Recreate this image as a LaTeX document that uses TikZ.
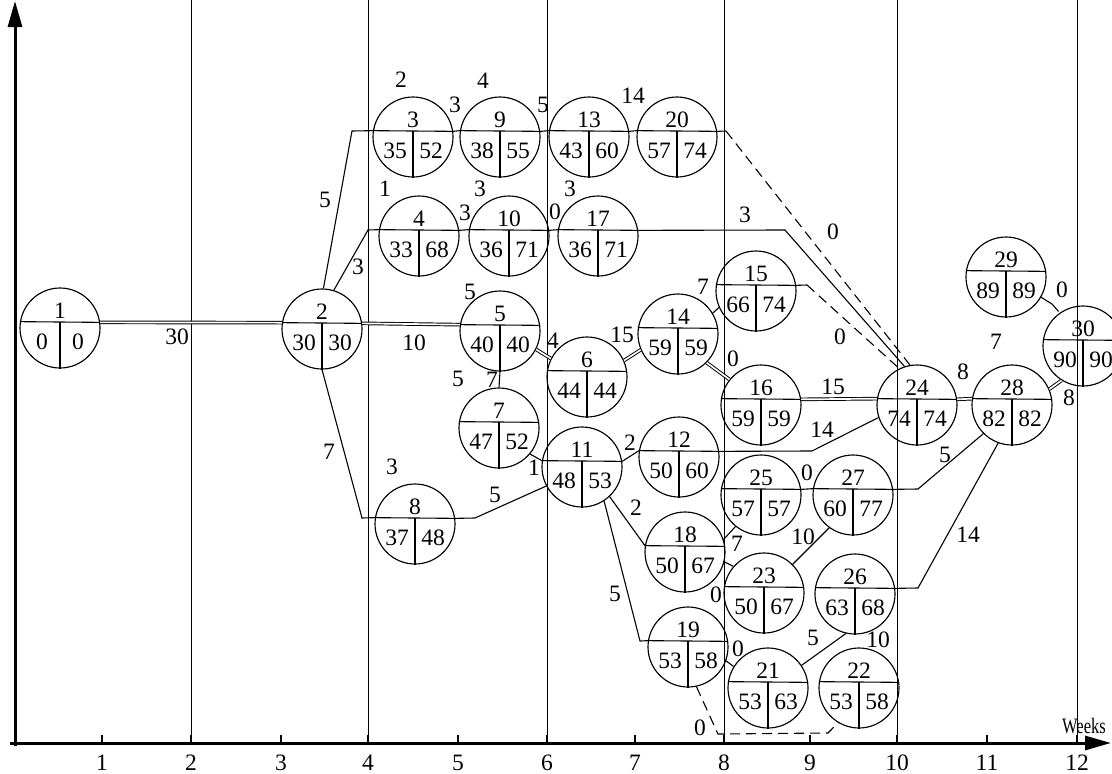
\documentclass[tikz,border=0pt]{standalone}
\usepackage{fontspec}
\setmainfont{Liberation Serif}
\usetikzlibrary{arrows.meta,calc}
\tikzset{
  ev/.style={circle, draw, line width=1.15pt, minimum size=80pt, inner sep=0pt},
  num/.style={font=\fontsize{23.5}{23.5}\selectfont, inner sep=0pt},
  lab/.style={font=\fontsize{23.5}{23.5}\selectfont, inner sep=0pt},
  cn/.style={line width=1.1pt},
  crit/.style={double, double distance=1.7pt, line width=0.95pt},
  dsh/.style={line width=1.1pt, dash pattern=on 10pt off 6pt},
  gridl/.style={line width=0.9pt},
  axisl/.style={line width=3pt, -{Triangle[length=26pt,width=14pt]}},
  tick/.style={line width=2.2pt},
}
\newcommand\evt[6]{%
  \node[ev] (#1) at (#2,#3) {};
  \draw[cn] (#1.171.4) -- (#1.8.6);
  \draw[cn] ([yshift=6pt]#1.center) -- (#1.south);
  \node[num] (#1t) at ([yshift=17pt]#1.center) {#4};
  \node[num] (#1l) at ([shift={(-18pt,-13.5pt)}]#1.center) {#5};
  \node[num] (#1r) at ([shift={(18pt,-13.5pt)}]#1.center) {#6};
}
\begin{document}
\begin{tikzpicture}[x=1pt,y=-1pt]
\useasboundingbox (0,0) rectangle (1112,774);
\clip (0,0) rectangle (1112,774);
% grid
\foreach \gx in {191,368,547,724,897,1077} \draw[gridl] (\gx,0) -- (\gx,743);
% axes
\coordinate (xe) at (1111,743);
\coordinate (ye) at (15,1);
\draw[axisl] (10,743) -- (xe);
\draw[axisl] (15,746) -- (ye);
\foreach \tx/\tl in {102/1,191/2,281/3,368/4,458/5,547/6,635/7,724/8,810/9,897/10,987/11,1077/12}{
  \draw[tick] (\tx,743) -- (\tx,735);
  \node[lab] (tk\tl) at (\tx,763) {\tl};
}
\node[font=\fontsize{22}{22}\selectfont, inner sep=0pt] (weeks) at (1084,726) {\scalebox{0.75}[1]{Weeks}};
% events
\evt{n1}{60}{328}{1}{0}{0}
\evt{n2}{322}{329}{2}{30}{30}
\evt{n3}{413}{137}{3}{35}{52}
\evt{n9}{500}{137}{9}{38}{55}
\evt{n13}{589}{137}{13}{43}{60}
\evt{n20}{677}{137}{20}{57}{74}
\evt{n4}{419}{236}{4}{33}{68}
\evt{n10}{509}{236}{10}{36}{71}
\evt{n17}{598}{236}{17}{36}{71}
\evt{n5}{500}{331}{5}{40}{40}
\evt{n6}{587}{377}{6}{44}{44}
\evt{n14}{678}{334}{14}{59}{59}
\evt{n15}{756}{291}{15}{66}{74}
\evt{n16}{761}{405}{16}{59}{59}
\evt{n24}{917}{405}{24}{74}{74}
\evt{n28}{1012}{405}{28}{82}{82}
\evt{n29}{1006}{277}{29}{89}{89}
\evt{n30}{1083}{346}{30}{90}{90}
\evt{n7}{499}{428}{7}{47}{52}
\evt{n11}{582}{467}{11}{48}{53}
\evt{n12}{679}{457}{12}{50}{60}
\evt{n8}{415}{524}{8}{37}{48}
\evt{n25}{761}{495}{25}{57}{57}
\evt{n27}{853}{495}{27}{60}{77}
\evt{n18}{685}{552}{18}{50}{67}
\evt{n23}{764}{593}{23}{50}{67}
\evt{n26}{855}{594}{26}{63}{68}
\evt{n19}{688}{647}{19}{53}{58}
\evt{n21}{768}{688}{21}{53}{63}
\evt{n22}{859}{688}{22}{53}{58}
% bend points
\coordinate (b1) at (352,131);
\coordinate (b2) at (726,131);
\coordinate (b3) at (368,230);
\coordinate (b4) at (785,230);
\coordinate (b5) at (807,285);
\coordinate (b6) at (812,451);
\coordinate (b7) at (362,518);
\coordinate (b8) at (475,518);
\coordinate (b9) at (640,641);
\coordinate (b10) at (918,489);
\coordinate (b11) at (918,588);
\coordinate (b12) at (718,734);
\coordinate (b13) at (828,733);
\coordinate (g29) at (1052,304);
% connectors
\draw[crit] (n1.8.6) -- (n2.171.4);
\draw[crit] (n2.8.6) -- (n5.171.4);
\draw[cn] (n2.88) -- (b1) -- (n3.171.4);
\draw[cn] (n3.8.6) -- (n9.171.4);
\draw[cn] (n9.8.6) -- (n13.171.4);
\draw[cn] (n13.8.6) -- (n20.171.4);
\draw[cn] (n20.8.6) -- (b2);
\draw[dsh] (b2) -- (n24.100);
\draw[cn] (n2.73) -- (b3) -- (n4.171.4);
\draw[cn] (n4.8.6) -- (n10.171.4);
\draw[cn] (n10.8.6) -- (n17.171.4);
\draw[cn] (n17.8.6) -- (b4) -- (n24.108);
\draw[crit] (n5.-27) -- (n6.153);
\draw[crit] (n6.24) -- (n14.-157);
\draw[crit] (n14.-45) -- (n16.141);
\draw[cn] (n14.31) -- (n15.-156);
\draw[cn] (n15.8.6) -- (b5);
\draw[dsh] (b5) -- (n24.116);
\draw[crit] (n16.8.6) -- (n24.171.4);
\draw[cn] (n12.8.6) -- (b6) -- (n24.198);
\draw[cn] (n5.south) -- (n7.north);
\draw[cn] (n7.-40) -- (n11.171.4);
\draw[cn] (n11.8.6) -- (n12.171.4);
\draw[cn] (n2.south) -- (b7) -- (n8.171.4);
\draw[cn] (n8.8.6) -- (b8) -- (n11.208);
\draw[cn] (n11.-47) -- (n18.171.4);
\draw[cn] (n11.-57) -- (b9) -- (n19.171.4);
\draw[cn] (n18.18) -- (n25.231);
\draw[cn] (n18.-14) -- (n23.139);
\draw[cn] (n25.8.6) -- (n27.171.4);
\draw[cn] (n23.45) -- (n27.234);
\draw[cn] (n27.8.6) -- (b10) -- (n28.225);
\draw[cn] (n26.8.6) -- (b11) -- (n28.250);
\draw[crit] (n24.8.6) -- (n28.171.4);
\draw[crit] (n28.23) -- (n30.238);
\draw[cn] (n29.-30) -- (g29);
\draw[cn, dash pattern=on 10pt off 6pt] (g29) -- (n30.125);
\draw[cn] (n19.-20) -- (n21.148);
\draw[cn] (n21.34) -- (n26.257);
\draw[dsh] (n19.-78) -- (b12) -- (b13) -- (n22.-121);
% labels
\foreach \lx/\ly/\lt [count=\li] in {
 177/337/30, 414/343/10, 325/200/5, 358/267/3, 329/452/7, 392/467/3, 495/495/5,
 401/80/2, 483/81/4, 455/105/3, 543/105/5, 633/96/14,
 385/189/1, 480/189/3, 465/213/3, 555/212/0, 570/189/3,
 745/215/3, 833/232/0, 470/292/5, 553/341/4, 622/335/15, 458/379/5, 492/380/7,
 703/287/7, 840/337/0, 733/359/0, 833/387/15, 822/430/14, 630/443/2, 534/468/1,
 807/473/0, 636/508/2, 737/544/7, 803/537/10, 945/455/5, 968/535/14,
 963/372/8, 996/342/7, 1062/290/0, 1069/398/8,
 615/594/5, 716/595/0, 738/649/0, 813/638/5, 878/640/10, 700/728/0}
 \node[lab] (lb\li) at (\lx,\ly) {\lt};
\end{tikzpicture}
\end{document}
